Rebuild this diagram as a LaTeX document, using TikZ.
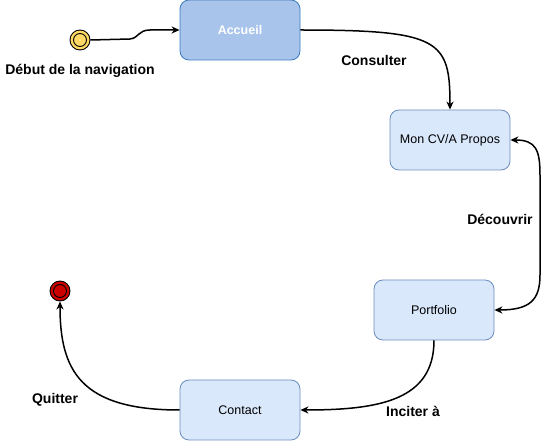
\documentclass[tikz,border=0pt]{standalone}
\usepackage{fontspec}
\setmainfont{Liberation Sans}
\usetikzlibrary{arrows.meta}
\definecolor{accfill}{HTML}{A9C4EB}
\definecolor{accdraw}{HTML}{3A7CBD}
\definecolor{boxfill}{HTML}{DAE8FC}
\definecolor{boxdraw}{HTML}{6C8EBF}
\definecolor{startfill}{HTML}{FFD966}
\definecolor{endfill}{HTML}{CC0000}
\tikzset{
  statebox/.style={rectangle, rounded corners=9pt, minimum width=120pt, minimum height=60pt, fill=boxfill, draw=boxdraw, line width=0.8pt, font=\fontsize{12.5}{15}\selectfont, inner sep=0pt},
  accbox/.style={statebox, fill=accfill, draw=accdraw, text=white, font=\fontsize{12.5}{15}\selectfont\bfseries},
  lbl/.style={font=\fontsize{14}{16}\selectfont\bfseries, inner sep=0pt},
  conn/.style={line width=1.5pt, -{Stealth[length=8pt,width=7pt,inset=2.5pt]}},
  startc/.style={circle, minimum size=20pt, inner sep=0pt, fill=startfill, draw=black, line width=0.9pt},
  endc/.style={circle, minimum size=20pt, inner sep=0pt, fill=endfill, draw=black, line width=0.9pt}
}
\begin{document}
\begin{tikzpicture}[x=1pt,y=-1pt]
\useasboundingbox (0,0) rectangle (542,441);
% states
\node[accbox] (acc) at (240,30) {Accueil};
\node[statebox] (cv) at (450,140) {Mon CV/A Propos};
\node[statebox] (port) at (434,310) {Portfolio};
\node[statebox] (contact) at (240,410) {Contact};
% start
\node[startc] (start) at (80,40) {};
\draw[line width=0.9pt] (start.center) circle (6.5pt);
\node[lbl] (startlbl) at (80,71) {Début de la navigation};
% end
\node[endc] (endst) at (60,291) {};
\draw[line width=0.9pt] (endst.center) circle (6.5pt);
% connectors
\coordinate (s1) at (130,39);
\coordinate (s2) at (150,30);
\draw[conn] (start.east) -- (s1) .. controls (139,38) and (138,30) .. (s2) -- (acc.west);
\draw[conn] (acc.east) .. controls (440,30) and (450,40) .. (cv.north);
\coordinate (d1) at (540,175);
\coordinate (d2) at (540,275);
\draw[line width=1.5pt, {Stealth[length=8pt,width=7pt,inset=2.5pt]}-{Stealth[length=8pt,width=7pt,inset=2.5pt]}]
  (cv.east) .. controls (536,140) and (540,150) .. (d1) -- (d2) .. controls (540,300) and (530,310) .. (port.east);
\draw[conn] (port.south) .. controls (434,400) and (380,410) .. (contact.east);
\draw[conn] (contact.west) .. controls (80,410) and (60,370) .. (endst.south);
% labels
\node[lbl] (l1) at (374,60) {Consulter};
\node[lbl] (l2) at (500,219) {Découvrir};
\node[lbl] (l3) at (413,411) {Inciter à};
\node[lbl] (l4) at (55,400) {Quitter};
\end{tikzpicture}
\end{document}
